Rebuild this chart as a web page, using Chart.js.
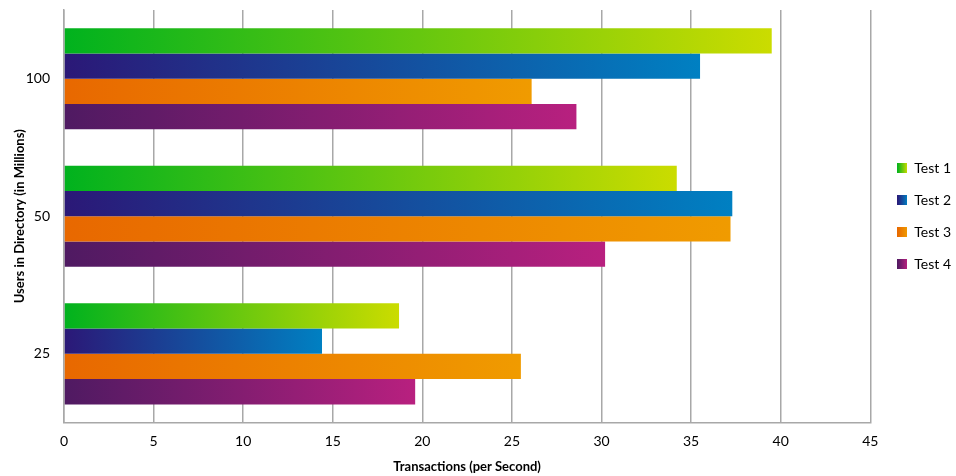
<!DOCTYPE html>
<html lang="en">
<head>
    <meta charset="UTF-8">
    <title>Transactions per Second</title>
    <script src="https://cdn.jsdelivr.net/npm/chart.js"></script>
    <style>
        body {
            margin: 0;
            padding: 0;
            background-color: #ffffff;
        }
        .chart-container {
            width: 956px;
            height: 476px;
        }
    </style>
</head>
<body>
    <div class="chart-container">
        <canvas id="txChart"></canvas>
    </div>

    <script>
        const categories = ['100', '50', '25'];
        const test1 = [39.5, 34.2, 18.7];
        const test2 = [35.5, 37.3, 14.4];
        const test3 = [26.1, 37.2, 25.5];
        const test4 = [28.6, 30.2, 19.6];
        const xTicks = [0, 5, 10, 15, 20, 25, 30, 35, 40, 45];

        const fontFamily = "Lato, 'Open Sans', sans-serif";
        const gridColor = '#a8a8a8';

        // start / end colours of each series gradient
        const seriesColors = [
            ['#00b21e', '#cbdc00'],
            ['#2b1877', '#0080c2'],
            ['#e86800', '#f09b00'],
            ['#4f1a62', '#b8207f']
        ];

        function barGradient(ctx, idx) {
            const chart = ctx.chart;
            const x = chart.scales.x;
            if (!x || !chart.chartArea || ctx.raw === undefined) return seriesColors[idx][0];
            const x0 = x.getPixelForValue(0);
            const x1 = x.getPixelForValue(ctx.raw);
            const g = chart.ctx.createLinearGradient(x0, 0, x1, 0);
            g.addColorStop(0, seriesColors[idx][0]);
            g.addColorStop(1, seriesColors[idx][1]);
            return g;
        }

        function legendSwatch(idx) {
            const c = document.createElement('canvas');
            c.width = 10;
            c.height = 10;
            const cx = c.getContext('2d');
            const g = cx.createLinearGradient(0, 0, 10, 0);
            g.addColorStop(0, seriesColors[idx][0]);
            g.addColorStop(1, seriesColors[idx][1]);
            cx.fillStyle = g;
            cx.fillRect(0, 0, 10, 10);
            return c;
        }

        // widen the legend a little and push its items right
        const legendNudge = {
            id: 'legendNudge',
            beforeLayout(chart) {
                const lg = chart.legend;
                if (!lg || lg._nudged) return;
                lg._nudged = true;
                const fit = lg.fit;
                lg.fit = function () { fit.call(this); this.width += 4; };
                const draw = lg.draw;
                lg.draw = function () { this.left += 9; draw.call(this); this.left -= 9; };
            }
        };

        const makeSet = (label, data, idx) => ({
            label: label,
            data: data,
            backgroundColor: ctx => barGradient(ctx, idx),
            borderWidth: 0,
            pointStyle: legendSwatch(idx),
            categoryPercentage: 0.735,
            barPercentage: 1.0
        });

        const txChart = new Chart(document.getElementById('txChart'), {
            type: 'bar',
            data: {
                labels: categories,
                datasets: [
                    makeSet('Test 1', test1, 0),
                    makeSet('Test 2', test2, 1),
                    makeSet('Test 3', test3, 2),
                    makeSet('Test 4', test4, 3)
                ]
            },
            plugins: [legendNudge],
            options: {
                indexAxis: 'y',
                responsive: true,
                maintainAspectRatio: false,
                animation: false,
                layout: {
                    padding: { top: 10, right: 0, bottom: 1, left: 12 }
                },
                plugins: {
                    legend: {
                        position: 'right',
                        fullSize: false,
                        labels: {
                            usePointStyle: true,
                            boxWidth: 10,
                            boxHeight: 10,
                            padding: 18,
                            color: '#000000',
                            font: { family: fontFamily, size: 14 }
                        }
                    },
                    tooltip: { enabled: false }
                },
                scales: {
                    x: {
                        min: 0,
                        max: 45,
                        afterBuildTicks: axis => {
                            axis.ticks = xTicks.map(v => ({ value: v }));
                        },
                        afterFit: axis => {
                            axis.paddingLeft = 0;
                            axis.paddingRight = 0;
                        },
                        grid: {
                            color: gridColor,
                            lineWidth: 1.5,
                            drawTicks: false
                        },
                        border: { color: gridColor, width: 1.5 },
                        ticks: {
                            color: '#000000',
                            padding: 10,
                            font: { family: fontFamily, size: 14 }
                        },
                        title: {
                            display: true,
                            text: 'Transactions (per Second)',
                            color: '#000000',
                            font: { family: fontFamily, size: 13, weight: 'bold' },
                            padding: { top: 0, bottom: 0 }
                        }
                    },
                    y: {
                        afterFit: axis => {
                            axis.paddingTop = 0;
                            axis.paddingBottom = 0;
                            axis.width = 52;
                        },
                        grid: { display: false, drawTicks: false },
                        border: { color: gridColor, width: 1.5 },
                        ticks: {
                            color: '#000000',
                            padding: 14,
                            font: { family: fontFamily, size: 14 }
                        },
                        title: {
                            display: true,
                            text: 'Users in Directory (in Millions)',
                            color: '#000000',
                            font: { family: fontFamily, size: 13, weight: 'bold' },
                            padding: { top: 0, bottom: 0 }
                        }
                    }
                }
            }
        });
    </script>
</body>
</html>
